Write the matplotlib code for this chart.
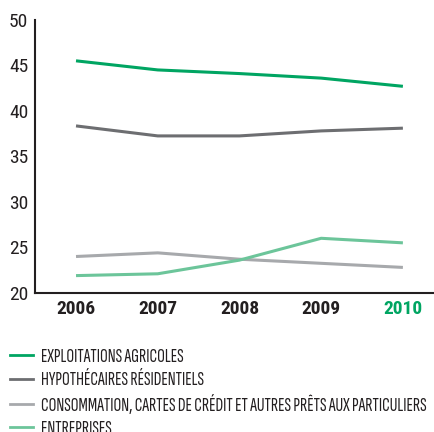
import matplotlib
matplotlib.use("Agg")
import matplotlib.pyplot as plt
from matplotlib.lines import Line2D

plt.rcParams['font.family'] = ['Roboto Condensed', 'DejaVu Sans']

years = [2006, 2007, 2008, 2009, 2010]
agricoles = [45.5, 44.5, 44.1, 43.6, 42.7]
hypothecaires = [38.35, 37.25, 37.25, 37.8, 38.1]
consommation = [24.0, 24.4, 23.7, 23.25, 22.8]
entreprises = [21.9, 22.1, 23.6, 26.0, 25.5]

labels = ["EXPLOITATIONS AGRICOLES", "HYPOTHÉCAIRES RÉSIDENTIELS",
          "CONSOMMATION, CARTES DE CRÉDIT ET AUTRES PRÊTS AUX PARTICULIERS",
          "ENTREPRISES"]
colors = ["#00a562", "#6d6e71", "#a7a9ac", "#6cc59a"]
series = [agricoles, hypothecaires, consommation, entreprises]
legend_font = ['Sofia Sans Extra Condensed', 'DejaVu Sans']

fig = plt.figure(figsize=(4.34, 4.32), dpi=100)
ax = fig.add_axes([0.081, 0.322, 0.917, 0.632])

for s, c in zip(series, colors):
    ax.plot(years, s, color=c, lw=2.2, solid_capstyle='butt')

ax.set_xlim(2005.5, 2010.37)
ax.set_ylim(20, 50)
ax.set_xticks(years)
ax.set_xticklabels([str(y) for y in years], fontsize=14, fontweight='bold', color='#231f20')
ax.get_xticklabels()[-1].set_color('#00a562')
ax.set_yticks(range(20, 51, 5))
ax.tick_params(axis='y', labelsize=14, labelcolor='#231f20', length=0, pad=5)
ax.tick_params(axis='x', length=0, pad=5)
ax.spines['top'].set_visible(False)
ax.spines['right'].set_visible(False)
for sp in ['left', 'bottom']:
    ax.spines[sp].set_color('#231f20')
    ax.spines[sp].set_linewidth(1.5)

# fit the longest legend label to ~384 px, like the reference
probe = fig.text(0, 0, labels[2], family=legend_font, fontsize=12, fontweight='medium')
fig.canvas.draw()
w = probe.get_window_extent().width
probe.remove()
fs = 12 * 384 / w
fs_px = fs * 100 / 72

handles = [Line2D([], [], color=c, lw=2) for c in colors]
leg = fig.legend(handles, labels, loc='upper left', bbox_to_anchor=(10 / 434, 1 - 348 / 432),
                 frameon=False, handlelength=23 / fs_px, handletextpad=8 / fs_px,
                 labelspacing=(24.6 - fs_px) / fs_px, borderaxespad=0, borderpad=0,
                 prop={'family': legend_font, 'size': fs, 'weight': 'medium'})
for t in leg.get_texts():
    t.set_color('#231f20')

fig.savefig("out.png", dpi=100)
